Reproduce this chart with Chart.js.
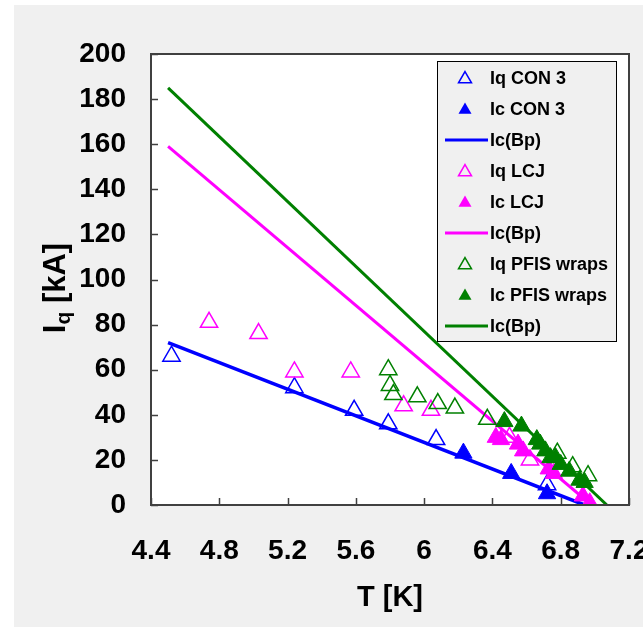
<!DOCTYPE html>
<html>
<head>
<meta charset="utf-8">
<script src="https://cdn.jsdelivr.net/npm/chart.js@4.4.0/dist/chart.umd.min.js"></script>
<style>
  html, body { margin: 0; padding: 0; background: #fff; }
  #wrap { position: absolute; left: 0; top: 0; width: 643px; height: 627px; }
</style>
</head>
<body>
<div id="wrap"><canvas id="grafico" width="643" height="627"></canvas></div>
<script>
// CON 3
const tCon3Iq = [4.52, 5.24, 5.59, 5.79, 6.07, 6.72];
const iCon3Iq = [66, 52, 42, 36, 29, 9];
const tCon3Ic = [6.23, 6.51, 6.72];
const iCon3Ic = [23, 14, 5];
const tCon3Bp = [4.50, 6.94];
const iCon3Bp = [72, 0];

// LCJ
const tLcjIq = [4.74, 5.03, 5.24, 5.57, 5.88, 6.04, 6.50, 6.62];
const iLcjIq = [81, 76, 59, 59, 44, 42, 30, 20];
const tLcjIc = [6.42, 6.45, 6.55, 6.58, 6.73, 6.76, 6.93, 6.97];
const iLcjIc = [30, 29, 27, 24, 16, 14, 4, 1];
const tLcjBp = [4.50, 6.98];
const iLcjBp = [159, 0];

// PFIS wraps
const tPfisIq = [5.79, 5.80, 5.82, 5.96, 6.08, 6.18, 6.37, 6.78, 6.87, 6.96];
const iPfisIq = [60, 53, 49, 48, 45, 43, 38, 23, 17, 13];
const tPfisIc = [6.47, 6.57, 6.66, 6.68, 6.71, 6.74, 6.77, 6.80, 6.85, 6.91, 6.94];
const iPfisIc = [37, 35, 29, 27, 24, 21, 21, 18, 15, 11, 10];
const tPfisBp = [4.50, 7.07];
const iPfisBp = [185, 0];

// ejes
const xTicks = [4.4, 4.8, 5.2, 5.6, 6, 6.4, 6.8, 7.2];
const yTicks = [0, 20, 40, 60, 80, 100, 120, 140, 160, 180, 200];

const AZUL = '#0000ff', MAGENTA = '#ff00ff', VERDE = '#008000';
const FUENTE = '"Liberation Sans", Arial, sans-serif';

const pares = (ts, is) => ts.map((t, k) => ({ x: t, y: is[k] }));

function abiertos(label, color, ts, is) {
  return { label, data: pares(ts, is), pointStyle: 'triangle', pointRadius: 10,
    pointBorderWidth: 1.5, pointBorderColor: color, pointBackgroundColor: 'rgba(0,0,0,0)',
    showLine: false, abierto: true };
}
function llenos(label, color, ts, is) {
  return { label, data: pares(ts, is), pointStyle: 'triangle', pointRadius: 10,
    pointBorderWidth: 1, pointBorderColor: color, pointBackgroundColor: color,
    showLine: false, abierto: false };
}
function linea(label, color, ts, is, ancho) {
  return { label, data: pares(ts, is), borderColor: color, borderWidth: ancho,
    pointRadius: 0, showLine: true, fill: false, tension: 0 };
}

const datasets = [
  abiertos('Iq CON 3', AZUL, tCon3Iq, iCon3Iq),
  llenos('Ic CON 3', AZUL, tCon3Ic, iCon3Ic),
  linea('Ic(Bp)', AZUL, tCon3Bp, iCon3Bp, 3.5),
  abiertos('Iq LCJ', MAGENTA, tLcjIq, iLcjIq),
  llenos('Ic LCJ', MAGENTA, tLcjIc, iLcjIc),
  linea('Ic(Bp)', MAGENTA, tLcjBp, iLcjBp, 3),
  abiertos('Iq PFIS wraps', VERDE, tPfisIq, iPfisIq),
  llenos('Ic PFIS wraps', VERDE, tPfisIc, iPfisIc),
  linea('Ic(Bp)', VERDE, tPfisBp, iPfisBp, 3)
];
// las series posteriores quedan encima
datasets.forEach((d, k) => { d.order = datasets.length - k; });

function triangulo(ctx, x, y, r) {
  ctx.beginPath();
  ctx.moveTo(x, y - r);
  ctx.lineTo(x + r * Math.sin(Math.PI / 3), y + r / 2);
  ctx.lineTo(x - r * Math.sin(Math.PI / 3), y + r / 2);
  ctx.closePath();
}

function dibujarLeyenda(chart) {
  const ctx = chart.ctx;
  ctx.save();
  ctx.fillStyle = '#f0f0f0';
  ctx.fillRect(437, 61, 179, 280);
  ctx.strokeStyle = '#000';
  ctx.lineWidth = 1;
  ctx.strokeRect(437.5, 61.5, 179, 280);
  ctx.font = 'bold 18px ' + FUENTE;
  ctx.textBaseline = 'middle';
  chart.data.datasets.forEach((ds, k) => {
    const y = 78 + k * 31;
    if (ds.showLine) {
      ctx.strokeStyle = ds.borderColor;
      ctx.lineWidth = 3;
      ctx.beginPath();
      ctx.moveTo(445, y);
      ctx.lineTo(488, y);
      ctx.stroke();
    } else {
      triangulo(ctx, 465, y + 1, 7.5);
      if (ds.abierto) {
        ctx.strokeStyle = ds.pointBorderColor;
        ctx.lineWidth = 1.5;
        ctx.stroke();
      } else {
        ctx.fillStyle = ds.pointBackgroundColor;
        ctx.fill();
      }
    }
    ctx.fillStyle = '#000';
    ctx.fillText(ds.label, 490, y + 1);
  });
  ctx.restore();
}

function dibujarTituloY(ctx, cx, cy) {
  const grande = 'bold 31px ' + FUENTE;
  const sub = 'bold 21px ' + FUENTE;
  ctx.save();
  ctx.translate(cx, cy);
  ctx.rotate(-Math.PI / 2);
  ctx.fillStyle = '#000';
  ctx.textBaseline = 'alphabetic';
  ctx.font = grande;
  const wI = ctx.measureText('I').width;
  const wResto = ctx.measureText(' [kA]').width;
  ctx.font = sub;
  const wq = ctx.measureText('q').width;
  let x = -(wI + wq + wResto) / 2;
  ctx.font = grande; ctx.fillText('I', x, 11); x += wI;
  ctx.font = sub; ctx.fillText('q', x, 16); x += wq;
  ctx.font = grande; ctx.fillText(' [kA]', x, 11);
  ctx.restore();
}

const marco = {
  id: 'marco',
  beforeDraw(chart) {
    const ctx = chart.ctx, a = chart.chartArea;
    ctx.save();
    ctx.fillStyle = '#fff';
    ctx.fillRect(0, 0, chart.width, chart.height);
    ctx.fillStyle = '#f0f0f0';
    ctx.fillRect(14, 5, chart.width - 14, chart.height - 5);
    ctx.fillStyle = '#fff';
    ctx.fillRect(a.left, a.top, a.right - a.left, a.bottom - a.top);
    ctx.restore();
  },
  afterDraw(chart) {
    const ctx = chart.ctx, a = chart.chartArea;
    const sx = chart.scales.x, sy = chart.scales.y;
    ctx.save();
    ctx.strokeStyle = '#404040';
    ctx.lineWidth = 2;
    ctx.strokeRect(a.left, a.top, a.right - a.left, a.bottom - a.top);
    // marcas hacia dentro
    ctx.lineWidth = 1.5;
    ctx.beginPath();
    yTicks.forEach(v => {
      const y = Math.round(sy.getPixelForValue(v)) + 0.5;
      ctx.moveTo(a.left, y); ctx.lineTo(a.left + 7, y);
    });
    xTicks.forEach(v => {
      const x = Math.round(sx.getPixelForValue(v)) + 0.5;
      ctx.moveTo(x, a.bottom); ctx.lineTo(x, a.bottom - 7);
    });
    ctx.stroke();
    // titulo eje x
    ctx.fillStyle = '#000';
    ctx.font = 'bold 29px ' + FUENTE;
    ctx.textAlign = 'center';
    ctx.textBaseline = 'middle';
    ctx.fillText('T [K]', (a.left + a.right) / 2, 598);
    ctx.restore();
    dibujarTituloY(ctx, 54, 288);
    dibujarLeyenda(chart);
  }
};

const ctx = document.getElementById('grafico').getContext('2d');
const grafico = new Chart(ctx, {
  type: 'scatter',
  data: { datasets },
  options: {
    responsive: false,
    animation: false,
    layout: { padding: { top: 54, right: 14, left: 0, bottom: 0 } },
    plugins: { legend: { display: false }, tooltip: { enabled: false } },
    scales: {
      x: {
        type: 'linear', min: 4.4, max: 7.2,
        afterBuildTicks: s => { s.ticks = xTicks.map(v => ({ value: v })); },
        afterFit: s => { s.height = 122; s.paddingLeft = 0; s.paddingRight = 0; },
        grid: { display: false, drawTicks: false },
        border: { display: false },
        ticks: { padding: 29, color: '#000', maxRotation: 0, autoSkip: false,
          font: { family: FUENTE, size: 28, weight: 'bold' },
          callback: v => String(v) }
      },
      y: {
        type: 'linear', min: 0, max: 200,
        afterBuildTicks: s => { s.ticks = yTicks.map(v => ({ value: v })); },
        afterFit: s => { s.width = 151; s.paddingTop = 0; s.paddingBottom = 0; },
        grid: { display: false, drawTicks: false },
        border: { display: false },
        ticks: { padding: 25, color: '#000', autoSkip: false,
          font: { family: FUENTE, size: 28, weight: 'bold' },
          callback: v => String(v) }
      }
    }
  },
  plugins: [marco]
});
</script>
</body>
</html>
